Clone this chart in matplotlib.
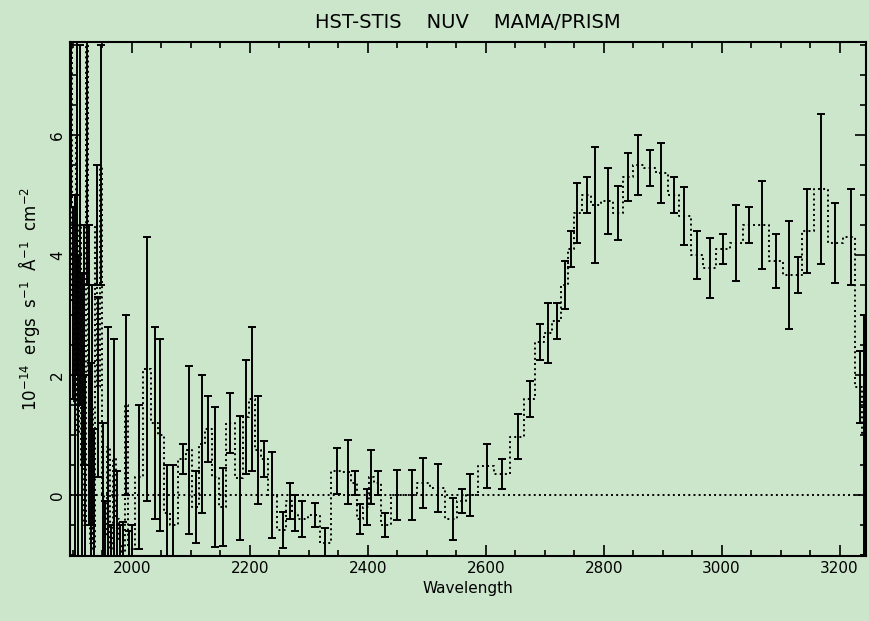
import numpy as np
import matplotlib
matplotlib.use("Agg")
import matplotlib.pyplot as plt
from matplotlib.ticker import MultipleLocator

# STIS NUV prism spectrum
wave = [1897, 1900, 1903, 1906, 1909, 1912, 1915, 1918, 1921, 1924,
        1927, 1930, 1933, 1936, 1940, 1943, 1947, 1951, 1955, 1960,
        1965, 1970, 1975, 1980, 1985, 1990, 1995, 2000, 2012, 2025,
        2039, 2048, 2060, 2070, 2087, 2097, 2108, 2119, 2129, 2141,
        2154, 2166, 2183, 2193, 2203, 2214, 2224, 2237, 2256, 2268,
        2276, 2288, 2310, 2327, 2347, 2366, 2378, 2386, 2398, 2405,
        2417, 2429, 2449, 2475, 2493, 2519, 2544, 2559, 2573, 2602,
        2627, 2654, 2675, 2692, 2705, 2720, 2734, 2744, 2754, 2771,
        2785, 2807, 2824, 2841, 2858, 2878, 2898, 2920, 2937, 2958,
        2980, 3002, 3025, 3047, 3069, 3093, 3115, 3130, 3144, 3169,
        3192, 3220, 3234, 3242]
flux = [7.8, 3.2, 1.5, 6.0, 1.0, 4.5, 0.5, 2.5, -0.5, 7.5,
        2.0, -0.8, 1.5, -0.9, 4.5, 1.8, 5.5, 0.0, -0.7, 0.8,
        -0.9, 0.6, -0.4, -0.8, -0.95, 1.5, -0.9, -0.9, 0.3, 2.1,
        1.2, 1.0, -0.3, -0.5, 0.6, 0.75, -0.2, 0.85, 1.1, 0.3,
        -0.2, 1.2, 0.28, 1.3, 1.6, 0.75, 0.6, 0.0, -0.58, -0.1,
        -0.3, -0.4, -0.33, -0.8, 0.4, 0.38, 0.2, -0.4, -0.2, 0.3,
        0.2, -0.5, 0.0, 0.0, 0.2, 0.12, -0.4, -0.1, 0.0, 0.48,
        0.35, 0.97, 1.6, 2.55, 2.7, 2.9, 3.5, 4.1, 4.7, 5.0,
        4.83, 4.9, 4.7, 5.3, 5.5, 5.45, 5.37, 5.0, 4.65, 4.0,
        3.78, 4.1, 4.2, 4.5, 4.5, 3.9, 3.67, 3.67, 4.4, 5.1,
        4.2, 4.3, 1.8, 1.0]
err = [3.0, 1.6, 3.5, 4.0, 3.0, 3.0, 3.2, 2.0, 2.5, 4.0,
       2.5, 3.0, 2.0, 2.0, 1.0, 1.5, 2.0, 1.2, 0.6, 2.0,
       0.4, 2.0, 0.8, 0.3, 0.5, 1.5, 0.3, 0.4, 1.2, 2.2,
       1.6, 1.6, 0.8, 1.0, 0.25, 1.4, 0.6, 1.15, 0.55, 1.17,
       0.65, 0.5, 1.03, 0.95, 1.2, 0.9, 0.3, 0.72, 0.3, 0.3,
       0.3, 0.3, 0.2, 0.25, 0.38, 0.53, 0.2, 0.25, 0.3, 0.45,
       0.2, 0.2, 0.42, 0.42, 0.42, 0.4, 0.35, 0.2, 0.35, 0.36,
       0.25, 0.37, 0.3, 0.3, 0.5, 0.3, 0.4, 0.3, 0.5, 0.3,
       0.97, 0.55, 0.45, 0.4, 0.5, 0.3, 0.5, 0.3, 0.48, 0.4,
       0.5, 0.25, 0.63, 0.3, 0.74, 0.45, 0.9, 0.3, 0.7, 1.25,
       0.67, 0.8, 0.6, 2.0]

bg = "#cce6cb"
fig = plt.figure(figsize=(8.7, 6.21), dpi=100, facecolor=bg)
ax = fig.add_axes([0.0805, 0.1047, 0.915, 0.8277], facecolor=bg)

ax.step(wave, flux, where="mid", color="black", ls=":", lw=1.4)
ax.errorbar(wave, flux, yerr=err, fmt="none", ecolor="black",
            elinewidth=1.4, capsize=3, capthick=1.4)
ax.axhline(0, color="black", ls=":", lw=1.4)

ax.set_xlim(1895, 3245)
ax.set_ylim(-1.02, 7.55)
ax.xaxis.set_major_locator(MultipleLocator(200))
ax.xaxis.set_minor_locator(MultipleLocator(50))
ax.yaxis.set_major_locator(MultipleLocator(2))
ax.yaxis.set_minor_locator(MultipleLocator(0.5))
ax.tick_params(which="both", direction="in", top=True, right=True,
               width=1.2, labelsize=11)
ax.tick_params(which="major", length=8)
ax.tick_params(which="minor", length=4)
for lbl in ax.get_yticklabels():
    lbl.set_rotation(90)
    lbl.set_va("center")
for s in ax.spines.values():
    s.set_linewidth(1.5)

ax.set_title("HST-STIS    NUV    MAMA/PRISM", fontsize=14, pad=10)
ax.set_xlabel("Wavelength", fontsize=11, labelpad=4)
ax.set_ylabel("10$^{-14}$  ergs  s$^{-1}$  Å$^{-1}$  cm$^{-2}$", fontsize=12,
              labelpad=6)

fig.savefig("out.png", dpi=100, facecolor=bg)
